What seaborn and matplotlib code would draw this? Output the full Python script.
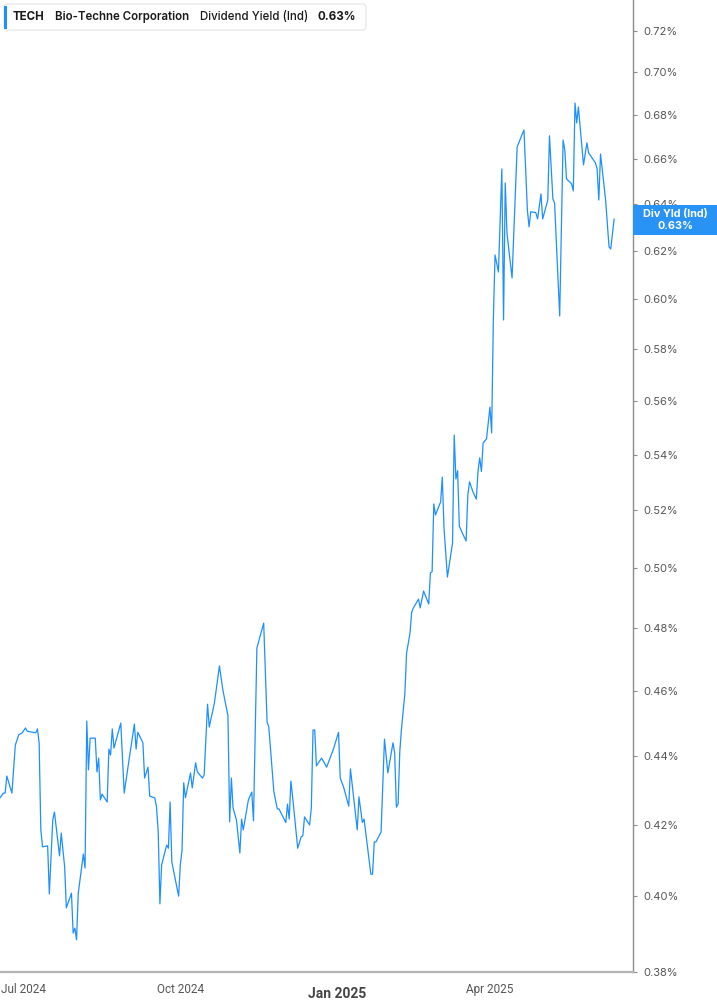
import numpy as np
import pandas as pd
import matplotlib
matplotlib.use("Agg")
import matplotlib.pyplot as plt
import matplotlib.transforms as mtransforms
import seaborn as sns
from matplotlib.patches import FancyBboxPatch, Rectangle
from matplotlib.ticker import FixedLocator, FixedFormatter, NullLocator
from matplotlib import font_manager

# ---------------- data (Dividend Yield (Ind), %) ----------------
base_date = "2024-07-01"   # day offsets below are days since this date

days_a = [-14, -12, -11, -10, -7, -5, -3, -1, 1, 2, 5, 7, 8, 9, 10, 11, 14, 15, 17, 18,
          21, 22, 24, 25, 28, 29, 30, 31, 32, 35, 36, 37, 38, 39, 42, 43, 44, 45, 46, 49,
          50, 51, 52, 53, 57, 59, 62, 65, 66, 67, 70, 71, 73, 74]
yield_a = [0.4277, 0.4291, 0.4291, 0.4341, 0.4291, 0.4433, 0.4464, 0.4470, 0.4485, 0.4475,
           0.4472, 0.4470, 0.4482, 0.4440, 0.4185, 0.4137, 0.4140, 0.4007, 0.4213, 0.4236,
           0.4112, 0.4176, 0.4081, 0.3969, 0.4009, 0.3902, 0.3915, 0.3884, 0.4009, 0.4117,
           0.4078, 0.4506, 0.4359, 0.4454, 0.4454, 0.4353, 0.4394, 0.4271, 0.4288, 0.4265,
           0.4421, 0.4403, 0.4482, 0.4424, 0.4500, 0.4291, 0.4394, 0.4497, 0.4421, 0.4472,
           0.4440, 0.4335, 0.4367, 0.4282]

days_b = [77, 78, 79, 80, 81, 84, 85, 86, 87, 91, 92, 93, 94, 95, 98, 99, 101, 102, 105, 106,
          107, 108, 109, 112, 115, 117, 120, 121, 122, 123, 125, 127, 128, 129, 132, 134, 135,
          137, 141, 143, 144, 147, 149, 150]
yield_b = [0.4277, 0.4250, 0.4179, 0.3980, 0.4087, 0.4142, 0.4133, 0.4265, 0.4095, 0.4001,
           0.4087, 0.4128, 0.4321, 0.4277, 0.4350, 0.4306, 0.4380, 0.4353, 0.4335, 0.4344,
           0.4448, 0.4558, 0.4488, 0.4561, 0.4678, 0.4602, 0.4522, 0.4208, 0.4335, 0.4248,
           0.4213, 0.4120, 0.4216, 0.4185, 0.4271, 0.4294, 0.4211, 0.4735, 0.4816, 0.4503,
           0.4488, 0.4294, 0.4245, 0.4245]

days_c = [154, 155, 156, 157, 158, 161, 163, 164, 165, 168, 169, 170, 171, 172, 175, 176, 178,
          182, 185, 186, 188, 191, 192, 196, 197, 199, 200, 204, 205, 206, 207, 210, 212, 214,
          217, 218, 219, 220, 221, 222, 224, 225, 227, 228, 229, 232, 233, 235, 238, 239, 240]
yield_c = [0.4206, 0.4259, 0.4216, 0.4326, 0.4280, 0.4133, 0.4165, 0.4168, 0.4222, 0.4199,
           0.4248, 0.4479, 0.4479, 0.4371, 0.4394, 0.4386, 0.4367, 0.4421, 0.4472, 0.4335,
           0.4308, 0.4253, 0.4362, 0.4185, 0.4280, 0.4206, 0.4216, 0.4061, 0.4061, 0.4151,
           0.4151, 0.4179, 0.4451, 0.4350, 0.4440, 0.4409, 0.4250, 0.4259, 0.4413, 0.4482,
           0.4592, 0.4719, 0.4783, 0.4852, 0.4866, 0.4895, 0.4866, 0.4922, 0.4879, 0.4983,
           0.4987]

days_d = [241, 242, 245, 246, 247, 249, 252, 253, 254, 255, 256, 258, 260, 261, 262, 264, 266,
          267, 268, 269, 270, 272, 274, 275, 276, 277, 279, 281, 282, 283, 284, 287, 290, 294,
          296, 297, 298, 301, 302, 304, 305, 308, 309, 311, 312, 315, 317, 318, 319, 322, 323,
          324, 325, 326, 329, 331, 332, 336, 337, 338, 339, 342, 344, 345, 347]
yield_d = [0.5222, 0.5183, 0.5229, 0.5318, 0.5137, 0.4969, 0.5085, 0.5472, 0.5311, 0.5341,
           0.5144, 0.5117, 0.5092, 0.5254, 0.5301, 0.5265, 0.5239, 0.5341, 0.5388, 0.5338,
           0.5443, 0.5458, 0.5577, 0.5480, 0.5917, 0.6184, 0.6113, 0.6556, 0.5917, 0.6494,
           0.6277, 0.6088, 0.6655, 0.6732, 0.6376, 0.6303, 0.6368, 0.6364, 0.6337, 0.6446,
           0.6337, 0.6419, 0.6705, 0.6424, 0.6406, 0.5933, 0.6686, 0.6641, 0.6512, 0.6490,
           0.6459, 0.6856, 0.6764, 0.6838, 0.6574, 0.6673, 0.6628, 0.6583, 0.6556, 0.6419,
           0.6623, 0.6419, 0.6218, 0.6209, 0.6337]

y_ticks = [0.38, 0.40, 0.42, 0.44, 0.46, 0.48, 0.50, 0.52, 0.54, 0.56, 0.58, 0.60,
           0.62, 0.64, 0.66, 0.68, 0.70, 0.72]
x_tick_dates = ["2024-07-01", "2024-10-01", "2025-01-01", "2025-04-01"]
x_tick_labels = ["Jul 2024", "Oct 2024", "Jan 2025", "Apr 2025"]
ticker_name = "TECH"
company = "Bio-Techne Corporation"
metric = "Dividend Yield (Ind)"
last_label = "0.63%"
badge_title = "Div Yld (Ind)"

# ---------------- build frame ----------------
days = days_a + days_b + days_c + days_d
vals = yield_a + yield_b + yield_c + yield_d
df = pd.DataFrame({
    "date": pd.Timestamp(base_date) + pd.to_timedelta(days, unit="D"),
    "yield": vals,
})

# ---------------- style ----------------
sns.set_style("white")
plt.rcParams["font.family"] = ["Inter", "DejaVu Sans"]

installed = {f.name for f in font_manager.fontManager.ttflist}
narrow_name = "Liberation Sans Narrow" if "Liberation Sans Narrow" in installed else "Roboto"

W, H = 717, 1005
fig = plt.figure(figsize=(W / 100, H / 100), dpi=100)
ax = fig.add_axes([0, 1 - 972 / H, 632.5 / W, 972 / H])

line_color = "#1e8fff"
sns.lineplot(data=df, x="date", y="yield", ax=ax, color=line_color, linewidth=0.9)

ax.set_yscale("log")
ax.set_ylim(0.38, 0.7353)
x0 = pd.Timestamp(base_date) + pd.Timedelta(days=-14.0)
x1 = pd.Timestamp(base_date) + pd.Timedelta(days=357.8)
ax.set_xlim(x0, x1)

ax.yaxis.set_major_locator(FixedLocator(y_ticks))
ax.yaxis.set_major_formatter(FixedFormatter([f"{t:.2f}%" for t in y_ticks]))
ax.yaxis.set_minor_locator(NullLocator())
ax.yaxis.tick_right()
ax.set_xlabel("")
ax.set_ylabel("")

ax.set_xticks(pd.to_datetime(x_tick_dates))
ax.set_xticklabels(x_tick_labels)
ax.xaxis.set_minor_locator(NullLocator())

for s in ["top", "left"]:
    ax.spines[s].set_visible(False)
ax.spines["right"].set_color("#8c8c8c")
ax.spines["right"].set_linewidth(1.0)
ax.spines["bottom"].set_color("#b4b4b4")
ax.spines["bottom"].set_linewidth(1.6)

ax.tick_params(axis="y", which="major", direction="out", length=3, width=0.8,
               color="#8c8c8c", labelsize=8, labelcolor="#555555", pad=5)
ax.tick_params(axis="x", which="major", direction="out", length=4, width=0.8,
               color="#b4b4b4", labelsize=8.5, labelcolor="#555555", pad=4)

down = mtransforms.ScaledTranslation(0, -3 / 72, fig.dpi_scale_trans)
for lab in ax.get_xticklabels():
    lab.set_family([narrow_name, "DejaVu Sans"])
    if lab.get_text() == "Jan 2025":
        lab.set_fontweight("bold")
        lab.set_fontsize(10)
        lab.set_color("#444444")
        lab.set_transform(lab.get_transform() + down)
for lab in ax.get_yticklabels():
    lab.set_family(["Inter", "DejaVu Sans"])

ax.grid(False)

# ---------------- header box ----------------
def fx(px):
    return px / W

def fy(py):
    return 1 - py / H

hdr = FancyBboxPatch((fx(4), fy(30)), fx(362), 26 / H,
                     boxstyle="round,pad=0,rounding_size=0.004",
                     transform=fig.transFigure, facecolor="white",
                     edgecolor="#e3e3e3", linewidth=0.8, zorder=5)
fig.patches.append(hdr)
fig.patches.append(Rectangle((fx(4), fy(29)), fx(3), 23 / H, transform=fig.transFigure,
                             facecolor=line_color, edgecolor="none", zorder=6))
hsize = 8.3
fig.text(fx(13), fy(17), ticker_name, fontsize=hsize, fontweight="bold", color="#1a1a1a",
         va="center", ha="left", zorder=7)
fig.text(fx(55), fy(17), company, fontsize=hsize, fontweight="semibold", color="#1a1a1a",
         va="center", ha="left", zorder=7)
fig.text(fx(200), fy(17), metric, fontsize=hsize, fontweight="medium", color="#1a1a1a",
         va="center", ha="left", zorder=7)
fig.text(fx(318), fy(17), last_label, fontsize=hsize, fontweight="bold", color="#1a1a1a",
         va="center", ha="left", zorder=7)

# ---------------- last value badge ----------------
fig.patches.append(Rectangle((fx(633), fy(234.5)), fx(84), 29.5 / H, transform=fig.transFigure,
                             facecolor="#2893f5", edgecolor="none", zorder=6))
fig.text(fx(675), fy(214), badge_title, fontsize=7.8, fontweight="bold", color="white",
         va="center", ha="center", zorder=7)
fig.text(fx(675), fy(226), last_label, fontsize=7.8, fontweight="bold", color="white",
         va="center", ha="center", zorder=7)

fig.savefig("out.png", dpi=100, facecolor="white")
